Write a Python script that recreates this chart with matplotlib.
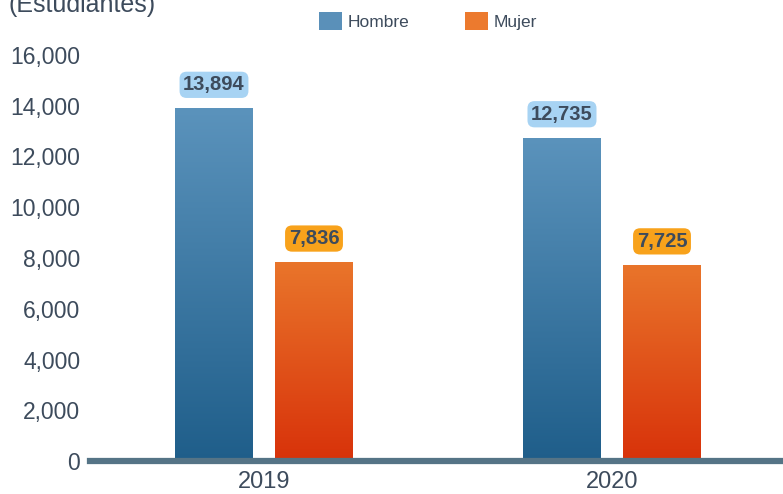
import matplotlib
matplotlib.use("Agg")
import matplotlib.pyplot as plt
import numpy as np
from matplotlib.colors import LinearSegmentedColormap
from matplotlib.patches import Patch

years = ["2019", "2020"]
hombre = [13894, 12735]
mujer = [7836, 7725]
yticks = [0, 2000, 4000, 6000, 8000, 10000, 12000, 14000, 16000]

plt.rcParams['font.family'] = ['Liberation Sans', 'DejaVu Sans']

txtc = "#3d4b5c"
W, H = 783, 494
fig = plt.figure(figsize=(W / 100, H / 100), dpi=100)
ax = fig.add_axes([90 / W, 33 / H, 696 / W, 406 / H])
ax.set_xlim(-0.5, 1.5)
ax.set_ylim(0, 16000)

x = np.arange(len(years))
bw = 0.224
off = 0.1437

cm_h = LinearSegmentedColormap.from_list("h", ["#1f5e8a", "#5b93bc"])
cm_m = LinearSegmentedColormap.from_list("m", ["#d8320a", "#e9752b"])
grad = np.linspace(0, 1, 256).reshape(-1, 1)

def gbar(xc, val, cmap):
    b = ax.bar(xc, val, bw, color="none", edgecolor="none")[0]
    im = ax.imshow(grad, cmap=cmap, origin="lower", aspect="auto",
                   extent=[xc - bw / 2, xc + bw / 2, 0, val], zorder=2)
    im.set_clip_path(b)
    return b

lab_kw = dict(textcoords="offset points", ha="center", va="center",
              fontsize=14.5, fontweight="bold", color=txtc, zorder=5)
for i in range(len(years)):
    gbar(x[i] - off, hombre[i], cm_h)
    gbar(x[i] + off, mujer[i], cm_m)
    ax.annotate(f"{hombre[i]:,}", (x[i] - off, hombre[i]), xytext=(0, 17),
                bbox=dict(boxstyle="round,pad=0.18,rounding_size=0.35", fc="#a7d3f3", ec="none"),
                **lab_kw)
    ax.annotate(f"{mujer[i]:,}", (x[i] + off, mujer[i]), xytext=(0, 17),
                bbox=dict(boxstyle="round,pad=0.18,rounding_size=0.35", fc="#f8a21b", ec="none"),
                **lab_kw)

ax.set_xlim(-0.5, 1.5)
ax.set_ylim(0, 16000)
ax.axhline(0, color="#557486", lw=4.5, zorder=4, clip_on=False)
ax.set_yticks(yticks)
ax.set_yticklabels([f"{v:,}" for v in yticks], fontsize=16.5, color=txtc)
ax.set_xticks(x)
ax.set_xticklabels(years, fontsize=17, color=txtc)
ax.tick_params(length=0, pad=7)
for s in ax.spines.values():
    s.set_visible(False)

fig.text(8 / W, 1 - 5 / H, "(Estudiantes)", fontsize=18, color=txtc, ha="left", va="center")

handles = [Patch(facecolor="#5a90b9", label="Hombre"), Patch(facecolor="#ec7a2e", label="Mujer")]
fig.legend(handles=handles, loc="center", bbox_to_anchor=(428 / W, 1 - 21 / H), ncol=2,
           frameon=False, fontsize=12.5, handlelength=1.3, handleheight=1.3, columnspacing=3.2,
           handletextpad=0.35, labelcolor=txtc)

fig.savefig("out.png", dpi=100)
